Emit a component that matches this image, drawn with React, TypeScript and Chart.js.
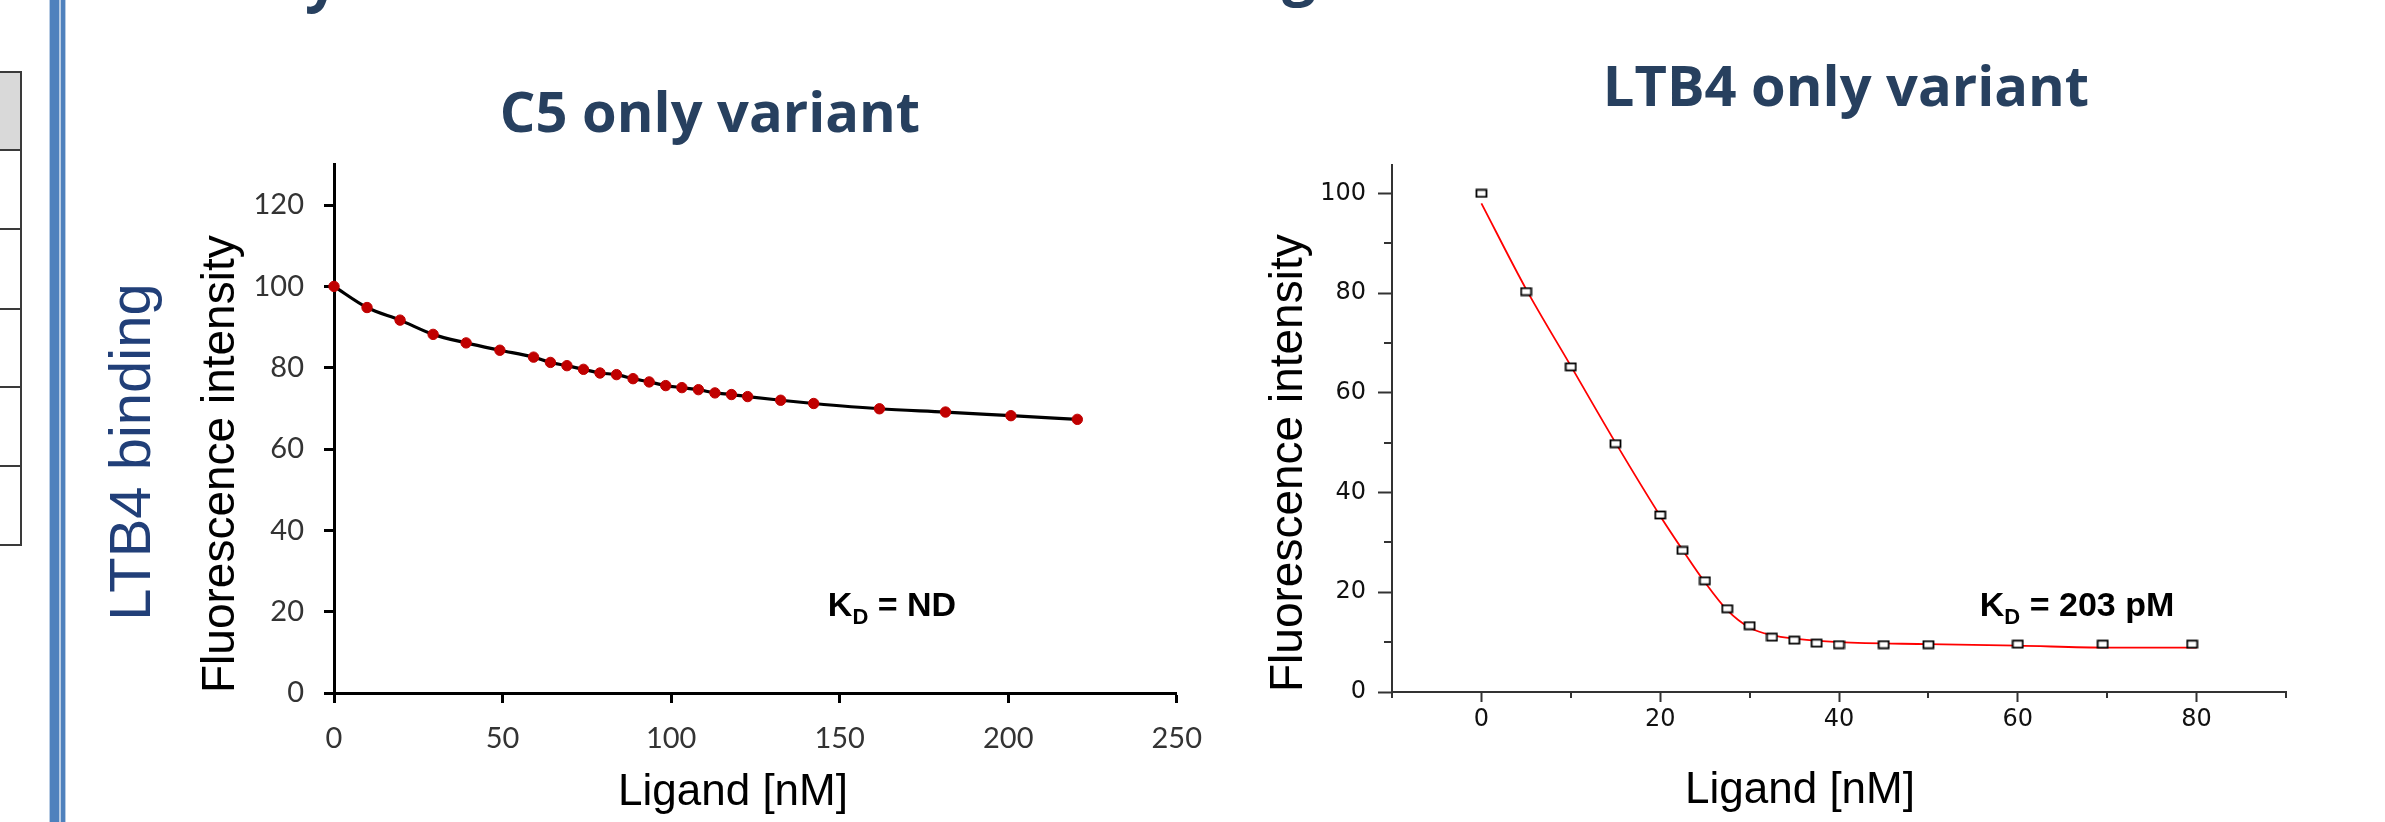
import React, { useEffect, useRef } from 'react';
import { Chart, registerables } from 'chart.js';

Chart.register(...registerables);

// ---------- Data: C5 only variant ----------
const c5X = [0, 9.8, 19.6, 29.4, 39.2, 49.2, 59.2, 64.2, 69.1, 74.0, 78.9, 83.8, 88.7, 93.5, 98.4, 103.2, 108.1, 113.0, 117.9, 122.7, 132.5, 142.3, 161.8, 181.4, 200.8, 220.5];
const c5Y = [100.0, 94.8, 91.7, 88.2, 86.1, 84.3, 82.6, 81.3, 80.5, 79.6, 78.7, 78.3, 77.3, 76.5, 75.6, 75.1, 74.6, 73.8, 73.4, 72.9, 72.0, 71.2, 69.9, 69.1, 68.2, 67.3];
const c5XTicks = [0, 50, 100, 150, 200, 250];
const c5YTicks = [0, 20, 40, 60, 80, 100, 120];

// ---------- Data: LTB4 only variant ----------
const ltbX = [0, 5, 10, 15, 20, 22.5, 25, 27.5, 30, 32.5, 35, 37.5, 40, 45, 50, 60, 69.5, 79.5];
const ltbY = [100, 80.3, 65.2, 49.8, 35.5, 28.4, 22.3, 16.7, 13.3, 11.0, 10.4, 9.8, 9.5, 9.5, 9.5, 9.6, 9.6, 9.6];
const fitX = [0, 5, 10, 15, 20, 22.5, 25, 27.5, 30, 32.5, 35, 40, 50, 60, 70, 80];
const fitY = [98.0, 80.8, 65.4, 50.0, 35.3, 28.5, 22.0, 16.4, 12.9, 11.4, 10.7, 10.0, 9.6, 9.3, 8.9, 8.9];
const ltbXTicks = [0, 20, 40, 60, 80];
const ltbXMinor = [-10, 10, 30, 50, 70, 90];
const ltbYTicks = [0, 20, 40, 60, 80, 100];
const ltbYMinor = [10, 30, 50, 70, 90];

const yTitle = 'Fluorescence intensity';
const xTitle = 'Ligand [nM]';

function makeSquare() {
  const c = document.createElement('canvas');
  c.width = 13;
  c.height = 10;
  const g = c.getContext('2d')!;
  g.fillStyle = '#fff';
  g.fillRect(1, 1, 11, 8);
  g.strokeStyle = '#000';
  g.lineWidth = 1.8;
  g.strokeRect(1.5, 1.5, 10, 7);
  return c;
}

const minorTicks = {
  id: 'minorTicks',
  afterDraw(chart: any) {
    const { ctx, chartArea } = chart;
    const xs = chart.scales.x;
    const ys = chart.scales.y;
    ctx.save();
    ctx.strokeStyle = '#333';
    ctx.lineWidth = 2;
    ltbYMinor.forEach((v) => {
      const y = Math.round(ys.getPixelForValue(v));
      ctx.beginPath();
      ctx.moveTo(chartArea.left - 8, y);
      ctx.lineTo(chartArea.left, y);
      ctx.stroke();
    });
    ltbXMinor.forEach((v) => {
      const x = Math.round(xs.getPixelForValue(v));
      ctx.beginPath();
      ctx.moveTo(x, chartArea.bottom);
      ctx.lineTo(x, chartArea.bottom + 6);
      ctx.stroke();
    });
    ctx.restore();
  },
};

function useChart(ref: React.RefObject<HTMLCanvasElement>, build: () => any) {
  useEffect(() => {
    if (!ref.current) return;
    const chart = new Chart(ref.current, build());
    return () => chart.destroy();
  }, []);
}

function C5Chart() {
  const ref = useRef<HTMLCanvasElement>(null);
  useChart(ref, () => ({
    type: 'line',
    data: {
      datasets: [
        {
          data: c5X.map((x, i) => ({ x, y: c5Y[i] })),
          borderColor: '#000',
          borderWidth: 3.2,
          cubicInterpolationMode: 'monotone',
          pointRadius: 5.2,
          pointBackgroundColor: '#c00000',
          pointBorderColor: '#c00000',
          pointBorderWidth: 1,
          clip: false,
        },
      ],
    },
    options: {
      animation: false,
      responsive: false,
      events: [],
      layout: { padding: { left: 0, right: 31, top: 0, bottom: 0 } },
      plugins: { legend: { display: false }, tooltip: { enabled: false } },
      scales: {
        x: {
          type: 'linear',
          min: 0,
          max: 250,
          afterBuildTicks: (s: any) => {
            s.ticks = c5XTicks.map((v) => ({ value: v }));
          },
          afterFit: (s: any) => {
            s.height = 87;
          },
          grid: { drawOnChartArea: false, drawTicks: true, tickLength: 10, tickWidth: 3, tickColor: '#000' },
          border: { display: true, color: '#000', width: 3 },
          ticks: { padding: 18, color: '#333', font: { family: 'Lato', size: 29 }, maxRotation: 0, autoSkip: false },
        },
        y: {
          type: 'linear',
          min: 0,
          max: 130,
          afterBuildTicks: (s: any) => {
            s.ticks = c5YTicks.map((v) => ({ value: v }));
          },
          afterFit: (s: any) => {
            s.width = 154;
          },
          grid: { drawOnChartArea: false, drawTicks: true, tickLength: 10, tickWidth: 3, tickColor: '#000' },
          border: { display: true, color: '#000', width: 3 },
          ticks: { padding: 20, color: '#333', font: { family: 'Lato', size: 29 }, autoSkip: false },
          title: {
            display: true,
            text: yTitle,
            align: 'start',
            color: '#000',
            font: { family: 'Liberation Sans', size: 46 },
            padding: { top: 14, bottom: 0 },
          },
        },
      },
    },
  }));
  return (
    <canvas
      ref={ref}
      width={1040}
      height={653}
      style={{ position: 'absolute', left: 180, top: 127, width: 1040, height: 653 }}
    />
  );
}

function LtbChart() {
  const ref = useRef<HTMLCanvasElement>(null);
  useChart(ref, () => ({
    type: 'line',
    data: {
      datasets: [
        {
          data: ltbX.map((x, i) => ({ x, y: ltbY[i] })),
          showLine: false,
          pointStyle: makeSquare(),
          pointRadius: 5,
          clip: false,
        },
        {
          data: fitX.map((x, i) => ({ x, y: fitY[i] })),
          borderColor: '#ff0000',
          borderWidth: 1.8,
          cubicInterpolationMode: 'monotone',
          pointRadius: 0,
          clip: false,
        },
      ],
    },
    options: {
      animation: false,
      responsive: false,
      events: [],
      layout: { padding: { left: 0, right: 44, top: 0, bottom: 0 } },
      plugins: { legend: { display: false }, tooltip: { enabled: false } },
      scales: {
        x: {
          type: 'linear',
          min: -10,
          max: 90,
          afterBuildTicks: (s: any) => {
            s.ticks = ltbXTicks.map((v) => ({ value: v }));
          },
          afterFit: (s: any) => {
            s.height = 88;
          },
          grid: { drawOnChartArea: false, drawTicks: true, tickLength: 10, tickWidth: 2, tickColor: '#333' },
          border: { display: true, color: '#333', width: 2 },
          ticks: { padding: 3, color: '#111', font: { family: 'DejaVu Sans', size: 24 }, maxRotation: 0, autoSkip: false },
        },
        y: {
          type: 'linear',
          min: 0,
          max: 105.6,
          afterBuildTicks: (s: any) => {
            s.ticks = ltbYTicks.map((v) => ({ value: v }));
          },
          afterFit: (s: any) => {
            s.width = 162;
          },
          grid: { drawOnChartArea: false, drawTicks: true, tickLength: 14, tickWidth: 2, tickColor: '#333' },
          border: { display: true, color: '#333', width: 2 },
          ticks: { padding: 12, color: '#111', font: { family: 'DejaVu Sans', size: 24 }, autoSkip: false },
          title: {
            display: true,
            text: yTitle,
            align: 'start',
            color: '#000',
            font: { family: 'Liberation Sans', size: 46 },
            padding: { top: 32, bottom: 0 },
          },
        },
      },
    },
    plugins: [minorTicks],
  }));
  return (
    <canvas
      ref={ref}
      width={1100}
      height={641}
      style={{ position: 'absolute', left: 1230, top: 139, width: 1100, height: 641 }}
    />
  );
}

const navy = '#27405f';
const abs: React.CSSProperties = { position: 'absolute', whiteSpace: 'nowrap', lineHeight: 1 };

export default function App() {
  const rowLines = [71, 149, 228, 308, 386, 465, 544];
  return (
    <div
      style={{
        position: 'fixed',
        left: 0,
        top: 0,
        width: 2385,
        height: 822,
        overflow: 'hidden',
        background: '#fff',
      }}
    >
      {/* cut-off slide heading glyphs at the very top */}
      <div style={{ ...abs, left: 305, top: -54, fontFamily: 'Open Sans, sans-serif', fontWeight: 700, fontSize: 60, color: navy }}>y</div>
      <div style={{ ...abs, left: 1282, top: -60, fontFamily: 'Open Sans, sans-serif', fontWeight: 700, fontSize: 60, color: navy }}>g</div>

      {/* partial table at left edge */}
      <div style={{ position: 'absolute', left: 0, top: 71, width: 21, height: 78, background: '#d9d9d9' }} />
      {rowLines.map((y) => (
        <div key={y} style={{ position: 'absolute', left: 0, top: y, width: 22, height: 2, background: '#3a3a3a' }} />
      ))}
      <div style={{ position: 'absolute', left: 20, top: 71, width: 2, height: 475, background: '#3a3a3a' }} />

      {/* double blue separator */}
      <div style={{ position: 'absolute', left: 49, top: 0, width: 17, height: 822, background: '#b8cce4' }} />
      <div style={{ position: 'absolute', left: 50, top: 0, width: 9, height: 822, background: '#4f81bd' }} />
      <div style={{ position: 'absolute', left: 61, top: 0, width: 4, height: 822, background: '#4f81bd' }} />

      {/* rotated row label */}
      <div
        style={{
          ...abs,
          left: 130,
          top: 452,
          transform: 'translate(-50%, -50%) rotate(-90deg)',
          fontFamily: 'Liberation Sans, Arial, sans-serif',
          fontSize: 58,
          color: '#213f78',
        }}
      >
        LTB4 binding
      </div>

      {/* chart titles */}
      <div
        style={{
          ...abs,
          left: 710,
          top: 82,
          transform: 'translateX(-50%)',
          fontFamily: 'Open Sans, sans-serif',
          fontWeight: 700,
          fontSize: 56,
          color: navy,
        }}
      >
        C5 only variant
      </div>
      <div
        style={{
          ...abs,
          left: 1846,
          top: 56,
          transform: 'translateX(-50%)',
          fontFamily: 'Open Sans, sans-serif',
          fontWeight: 700,
          fontSize: 56,
          color: navy,
        }}
      >
        LTB4 only variant
      </div>

      <C5Chart />
      <LtbChart />

      {/* x-axis titles */}
      <div style={{ ...abs, left: 733, top: 768, transform: 'translateX(-50%)', fontFamily: 'Liberation Sans, Arial, sans-serif', fontSize: 44, color: '#000' }}>
        {xTitle}
      </div>
      <div style={{ ...abs, left: 1800, top: 766, transform: 'translateX(-50%)', fontFamily: 'Liberation Sans, Arial, sans-serif', fontSize: 44, color: '#000' }}>
        {xTitle}
      </div>

      {/* K_D annotations */}
      <div style={{ ...abs, left: 892, top: 587, transform: 'translateX(-50%)', fontFamily: 'Liberation Sans, Arial, sans-serif', fontWeight: 700, fontSize: 34, color: '#000' }}>
        K<sub style={{ fontSize: 22 }}>D</sub> = ND
      </div>
      <div style={{ ...abs, left: 2077, top: 587, transform: 'translateX(-50%)', fontFamily: 'Liberation Sans, Arial, sans-serif', fontWeight: 700, fontSize: 34, color: '#000' }}>
        K<sub style={{ fontSize: 22 }}>D</sub> = 203 pM
      </div>
    </div>
  );
}
